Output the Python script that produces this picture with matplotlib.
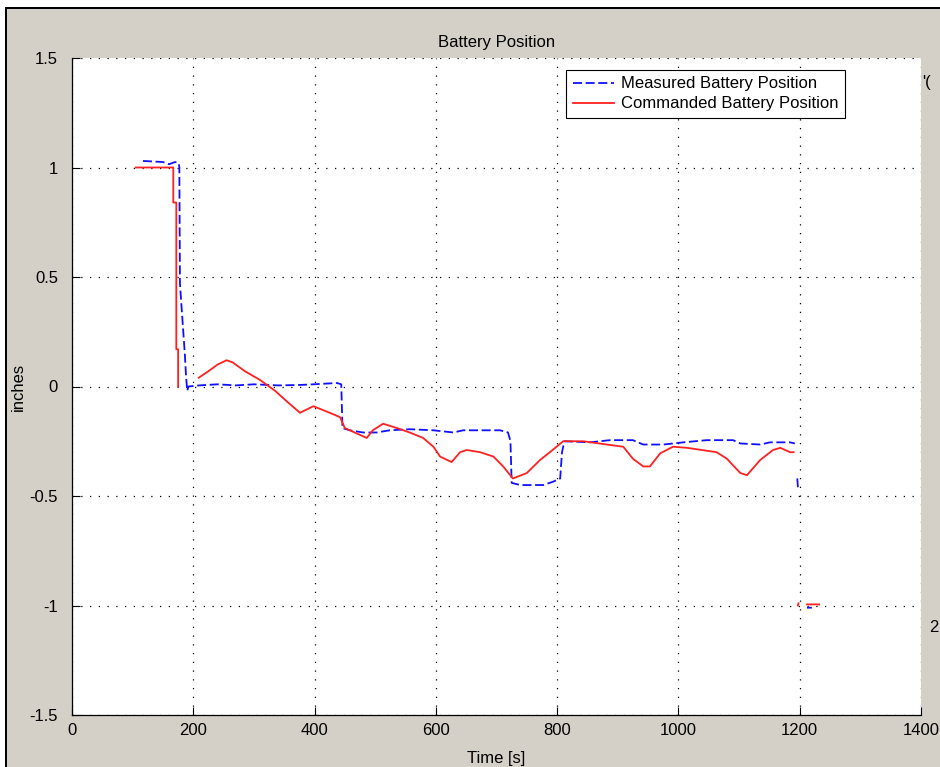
import numpy as np
import matplotlib
matplotlib.use('Agg')
import matplotlib.pyplot as plt
from matplotlib.patches import Rectangle

nan = np.nan

# measured battery position (blue dashed)
meas_t = [117, 150, 160, 170, 176, 177, 178, 183, 186, 188, 190, 192, 210, 240, 270, 300, 340,
          376, 398, 437, 444, 446, 458, 480, 502, 524, 557, 596, 629, 645, 706, 719, 723, 725,
          739, 777, 793, 805, 808, 812, 854, 887, 925, 942, 975, 1008, 1047, 1090, 1102, 1135,
          1151, 1184, 1192, nan, 1196, 1197, nan, 1212, 1220]
meas_y = [1.03, 1.025, 1.015, 1.025, 1.02, 1.0, 0.47, 0.27, 0.15, 0.05, -0.02, 0.0, 0.005, 0.01,
          0.005, 0.01, 0.005, 0.007, 0.01, 0.016, 0.01, -0.19, -0.2, -0.21, -0.21, -0.2, -0.195,
          -0.2, -0.21, -0.2, -0.2, -0.21, -0.25, -0.44, -0.45, -0.45, -0.435, -0.42, -0.3, -0.25,
          -0.255, -0.245, -0.245, -0.265, -0.265, -0.255, -0.245, -0.245, -0.26, -0.265, -0.255,
          -0.255, -0.26, nan, -0.42, -0.46, nan, -1.01, -1.01]

# commanded battery position (red solid)
cmd_t = [105, 167, 167, 172, 172, 175, 175, nan, 209, 225, 240, 255, 265, 285, 310, 335, 355,
         376, 398, 425, 442, 450, 486, 496, 513, 536, 557, 579, 596, 607, 626, 640, 651, 673,
         695, 711, 727, 750, 772, 788, 810, 843, 882, 909, 925, 942, 953, 970, 991, 1014, 1063,
         1080, 1102, 1113, 1135, 1156, 1168, 1184, 1190, nan, 1197, 1198, nan, 1212, 1232]
cmd_y = [1.0, 1.0, 0.84, 0.84, 0.17, 0.17, 0.0, nan, 0.04, 0.07, 0.1, 0.12, 0.11, 0.07, 0.03,
         -0.02, -0.07, -0.12, -0.09, -0.12, -0.14, -0.19, -0.235, -0.2, -0.17, -0.19, -0.21,
         -0.235, -0.275, -0.32, -0.345, -0.3, -0.29, -0.3, -0.32, -0.365, -0.42, -0.395, -0.335,
         -0.3, -0.25, -0.25, -0.265, -0.275, -0.33, -0.365, -0.365, -0.305, -0.275, -0.28, -0.3,
         -0.33, -0.395, -0.405, -0.335, -0.29, -0.28, -0.3, -0.3, nan, -1.0, -0.99, nan, -0.995,
         -0.995]

xticks = [0, 200, 400, 600, 800, 1000, 1200, 1400]
yticks = [-1.5, -1, -0.5, 0, 0.5, 1, 1.5]
ytick_labels = ['-1.5', '-1', '-0.5', '0', '0.5', '1', '1.5']

plt.rcParams['font.family'] = ['Liberation Sans', 'DejaVu Sans']
fs = 12

W, H = 940, 767
fig = plt.figure(figsize=(W / 100, H / 100), dpi=100)
fig.patch.set_facecolor('#d4d0c8')

# white margin + black frame at top/left
fig.patches.append(Rectangle((0, 1 - 7 / H), 1, 7 / H, transform=fig.transFigure,
                             facecolor='white', edgecolor='none'))
fig.patches.append(Rectangle((0, 0), 5 / W, 1, transform=fig.transFigure,
                             facecolor='white', edgecolor='none'))
fig.patches.append(Rectangle((5 / W, 0), 2 / W, 1 - 7 / H, transform=fig.transFigure,
                             facecolor='black', edgecolor='none'))
fig.patches.append(Rectangle((5 / W, 1 - 9 / H), 1, 2 / H, transform=fig.transFigure,
                             facecolor='black', edgecolor='none'))

ax = fig.add_axes([72 / W, (H - 715) / H, 849 / W, 657 / H])
ax.set_facecolor('white')

ax.plot(meas_t, meas_y, color='#1010ff', linestyle='--', dashes=(5, 2), lw=1.3,
        label='Measured Battery Position')
ax.plot(cmd_t, cmd_y, color='#ff2020', lw=1.3, label='Commanded Battery Position')

ax.set_xlim(0, 1400)
ax.set_ylim(-1.5, 1.5)
ax.set_xticks(xticks)
ax.set_yticks(yticks)
ax.set_yticklabels(ytick_labels)
ax.tick_params(direction='in', length=6, width=0.8, labelsize=fs)
ax.tick_params(axis='y', pad=10)
ax.tick_params(axis='x', pad=6)
ax.grid(True, color='black', linestyle=(0, (1, 6)), linewidth=0.9)
ax.set_axisbelow(True)
for s in ['top', 'right']:
    ax.spines[s].set_visible(False)
for s in ['left', 'bottom']:
    ax.spines[s].set_linewidth(0.9)

ax.set_title('Battery Position', fontsize=fs, pad=8)
ax.set_xlabel('Time [s]', fontsize=fs, labelpad=9)
ax.set_ylabel('inches', fontsize=fs, labelpad=3)

leg = ax.legend(loc='upper left', bbox_to_anchor=(0.582, 0.982), borderaxespad=0,
                fontsize=fs, fancybox=False, framealpha=1, edgecolor='black',
                handlelength=2.5, borderpad=0.4, labelspacing=0.3, handletextpad=0.4)
leg.get_frame().set_linewidth(0.8)

# partly visible text at the right edge
fig.text(922 / W, 1 - 82 / H, "'(", fontsize=fs, va='center', ha='left')
fig.text(929 / W, 1 - 628 / H, '2', fontsize=fs, va='center', ha='left')

fig.savefig('out.png', dpi=100, facecolor=fig.get_facecolor())
